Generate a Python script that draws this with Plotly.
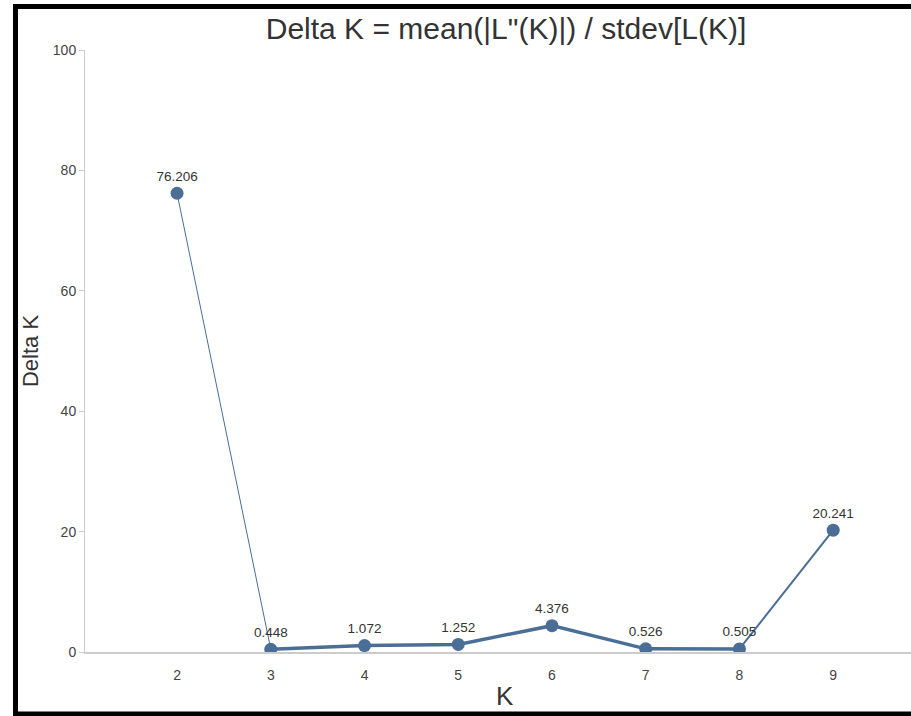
import plotly.graph_objects as go

k_values = [2, 3, 4, 5, 6, 7, 8, 9]
delta_k = [76.206, 0.448, 1.072, 1.252, 4.376, 0.526, 0.505, 20.241]
labels = ["76.206", "0.448", "1.072", "1.252", "4.376", "0.526", "0.505", "20.241"]
y_ticks = [0, 20, 40, 60, 80, 100]

color = "#4a6e96"
W, H = 911, 716
L, R, T, B = 85, 0, 50, 64
pw, ph = W - L - R, H - T - B

def px_x(p):
    return (p - L) / pw

def px_y(p):
    return (H - B - p) / ph

fig = go.Figure()
# segments with differing widths
fig.add_trace(go.Scatter(x=k_values[0:2], y=delta_k[0:2], mode="lines",
                         line=dict(color=color, width=1), hoverinfo="skip", showlegend=False))
fig.add_trace(go.Scatter(x=k_values[1:7], y=delta_k[1:7], mode="lines",
                         line=dict(color=color, width=3.5), hoverinfo="skip", showlegend=False))
fig.add_trace(go.Scatter(x=k_values[6:8], y=delta_k[6:8], mode="lines",
                         line=dict(color=color, width=2), hoverinfo="skip", showlegend=False))
fig.add_trace(go.Scatter(x=k_values, y=delta_k, mode="markers+text",
                         marker=dict(color=color, size=13),
                         text=labels, textposition="top center",
                         textfont=dict(family="Liberation Sans, Arial, sans-serif", size=13.5, color="#333333"),
                         showlegend=False))

fig.update_layout(
    width=W, height=H,
    margin=dict(l=L, r=R, t=T, b=B),
    paper_bgcolor="white", plot_bgcolor="white",
    font=dict(family="Liberation Sans, Arial, sans-serif", color="#444444"),
    title=dict(text='Delta K = mean(|L"(K)|) / stdev[L(K)]', xref="container", x=506 / W, xanchor="center",
               y=1 - 28 / H, yanchor="middle", font=dict(size=30, color="#333333")),
    xaxis=dict(
        range=[1.018, 9.83], tickmode="array", tickvals=k_values, ticktext=[str(k) for k in k_values],
        showgrid=False, zeroline=False, showline=True, linecolor="#cccccc", linewidth=1.5,
        ticks="outside", ticklen=9, tickcolor="rgba(0,0,0,0)",
        tickfont=dict(size=14, color="#444444"),
    ),
    yaxis=dict(
        range=[0, 100], tickvals=y_ticks, showgrid=False, zeroline=False,
        showline=True, linecolor="#cccccc", linewidth=1,
        ticks="outside", ticklen=5, tickcolor="#cccccc",
        tickfont=dict(size=14, color="#444444"),
        title=dict(text="Delta K", font=dict(size=22, color="#333333"), standoff=8),
    ),
    annotations=[dict(text="K", xref="paper", yref="paper", x=px_x(505), y=px_y(696),
                      xanchor="center", yanchor="middle", showarrow=False,
                      font=dict(size=26, color="#333333"))],
    shapes=[dict(type="rect", xref="paper", yref="paper",
                 x0=px_x(15.5), x1=px_x(W + 20), y0=px_y(714), y1=px_y(6.5),
                 line=dict(color="black", width=5), layer="above")],
)

fig.write_html("out.html", config={"displayModeBar": False},
               post_script="document.body.style.margin='0';document.body.style.overflow='hidden';")
